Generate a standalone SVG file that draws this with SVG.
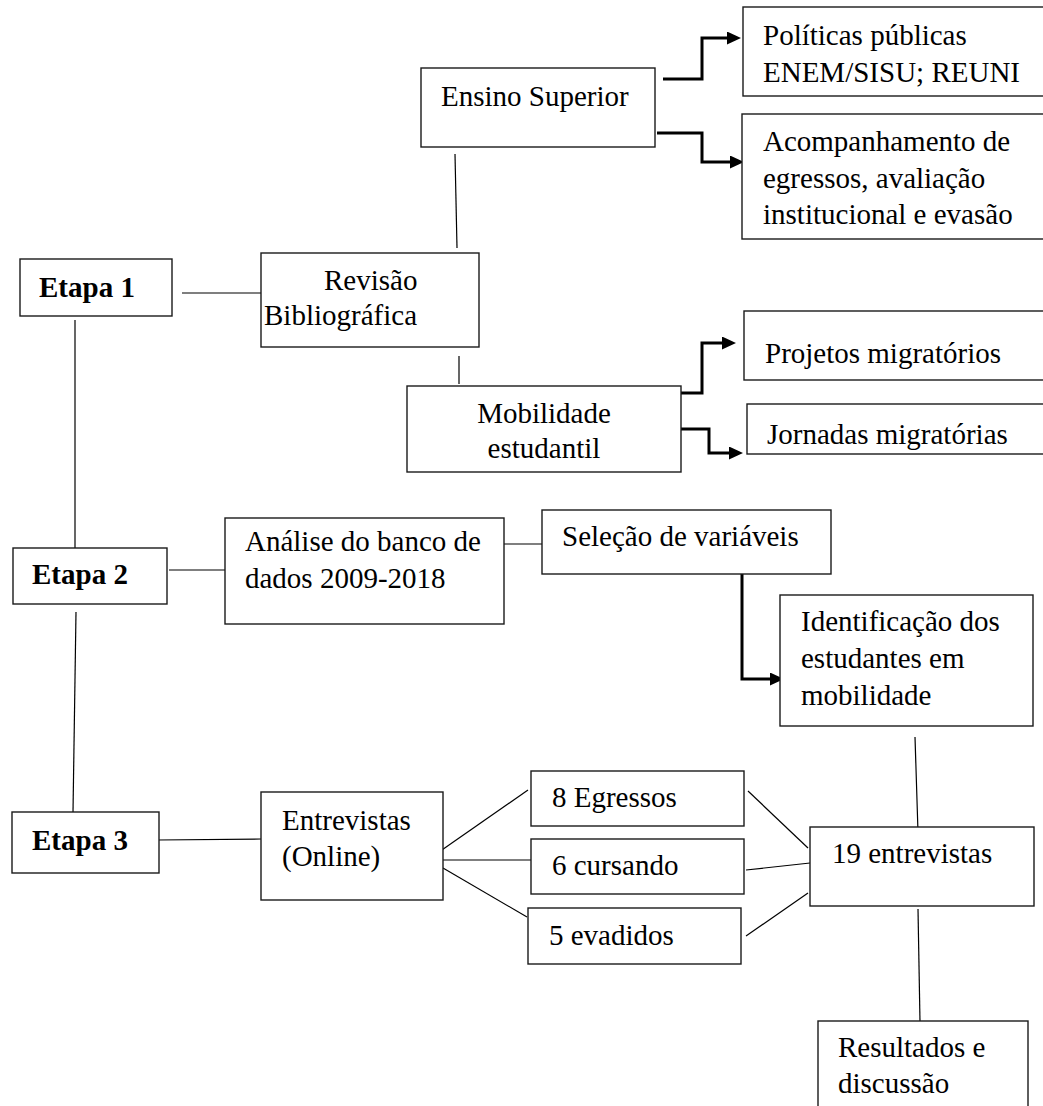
<svg xmlns="http://www.w3.org/2000/svg" width="1043" height="1106" viewBox="0 0 1043 1106">
<style>
  .box { fill: #ffffff; stroke: #1a1a1a; stroke-width: 1.4; }
  .t { font-family: "Liberation Serif", "Times New Roman", serif; font-size: 29px; fill: #000000; }
  .b { font-weight: bold; }
  .c { text-anchor: middle; }
  .ln { stroke: #000000; stroke-width: 1.2; fill: none; }
  .ar { stroke: #000000; stroke-width: 3; fill: none; marker-end: url(#ah); }
</style>
<defs>
  <marker id="ah" markerUnits="userSpaceOnUse" markerWidth="15" markerHeight="14" refX="0" refY="6.5" orient="auto">
    <path d="M0,0 L14,6.5 L0,13 Z" fill="#000000"/>
  </marker>
  <clipPath id="clipJornadas">
    <rect x="747" y="404" width="310" height="50"/>
  </clipPath>
</defs>
<rect width="1043" height="1106" fill="#ffffff"/>

<g id="connectors">
  <line class="ln" x1="182" y1="293" x2="261" y2="293"/>
  <line class="ln" x1="75" y1="320" x2="75" y2="548"/>
  <line class="ln" x1="76" y1="612" x2="73" y2="812"/>
  <line class="ln" x1="455" y1="154" x2="457" y2="248"/>
  <line class="ln" x1="459" y1="356" x2="459" y2="384"/>
  <path class="ar" d="M663,79 H702 V38 H727"/>
  <path class="ar" d="M657,133 H702 V162 H730"/>
  <path class="ar" d="M678,393 H702 V343 H722"/>
  <path class="ar" d="M681,429 H709 V453 H729"/>
  <line class="ln" x1="169" y1="570" x2="225" y2="570"/>
  <line class="ln" x1="504" y1="544" x2="542" y2="544"/>
  <path class="ar" d="M701,572 H742 V679 H770"/>
  <line class="ln" x1="915" y1="737" x2="918" y2="832"/>
  <line class="ln" x1="157" y1="840" x2="261" y2="839"/>
  <line class="ln" x1="439" y1="852" x2="528" y2="790"/>
  <line class="ln" x1="443" y1="860" x2="535" y2="860"/>
  <line class="ln" x1="443" y1="868" x2="527" y2="917"/>
  <line class="ln" x1="748" y1="791" x2="808" y2="848"/>
  <line class="ln" x1="746" y1="870" x2="810" y2="863"/>
  <line class="ln" x1="746" y1="936" x2="808" y2="893"/>
  <line class="ln" x1="918" y1="909" x2="920" y2="1022"/>
</g>

<g id="etapa1">
  <rect class="box" x="20" y="259" width="152" height="57"/>
  <text class="t b" x="39" y="297">Etapa 1</text>
</g>
<g id="revisao">
  <rect class="box" x="261" y="253" width="218" height="94"/>
  <text class="t" x="324" y="290">Revisão</text>
  <text class="t" x="264" y="325">Bibliográfica</text>
</g>
<g id="ensino">
  <rect class="box" x="421" y="68" width="234" height="79"/>
  <text class="t" x="441" y="106">Ensino Superior</text>
</g>
<g id="politicas">
  <rect class="box" x="743" y="7" width="310" height="89"/>
  <text class="t" x="763" y="45">Políticas públicas</text>
  <text class="t" x="763" y="82">ENEM/SISU; REUNI</text>
</g>
<g id="acompanhamento">
  <rect class="box" x="742" y="114" width="310" height="125"/>
  <text class="t" x="763" y="151">Acompanhamento de</text>
  <text class="t" x="763" y="188">egressos, avaliação</text>
  <text class="t" x="763" y="224">institucional e evasão</text>
</g>
<g id="mobilidade">
  <rect class="box" x="407" y="386" width="274" height="86"/>
  <text class="t c" x="544" y="423">Mobilidade</text>
  <text class="t c" x="544" y="458">estudantil</text>
</g>
<g id="projetos">
  <rect class="box" x="744" y="311" width="310" height="69"/>
  <text class="t" x="765" y="363">Projetos migratórios</text>
</g>
<g id="jornadas">
  <rect class="box" x="747" y="404" width="310" height="50"/>
  <text class="t" x="767" y="444" clip-path="url(#clipJornadas)">Jornadas migratórias</text>
</g>
<g id="etapa2">
  <rect class="box" x="13" y="548" width="154" height="56"/>
  <text class="t b" x="32" y="584">Etapa 2</text>
</g>
<g id="analise">
  <rect class="box" x="225" y="518" width="279" height="106"/>
  <text class="t" x="245" y="551">Análise do banco de</text>
  <text class="t" x="245" y="588">dados 2009-2018</text>
</g>
<g id="selecao">
  <rect class="box" x="542" y="510" width="289" height="64"/>
  <text class="t" x="562" y="546">Seleção de variáveis</text>
</g>
<g id="identificacao">
  <rect class="box" x="780" y="595" width="253" height="131"/>
  <text class="t" x="801" y="631">Identificação dos</text>
  <text class="t" x="801" y="668">estudantes em</text>
  <text class="t" x="801" y="705">mobilidade</text>
</g>
<g id="etapa3">
  <rect class="box" x="12" y="812" width="147" height="61"/>
  <text class="t b" x="32" y="850">Etapa 3</text>
</g>
<g id="entrevistas">
  <rect class="box" x="261" y="792" width="182" height="108"/>
  <text class="t" x="282" y="830">Entrevistas</text>
  <text class="t" x="282" y="866">(Online)</text>
</g>
<g id="egressos">
  <rect class="box" x="531" y="771" width="213" height="55"/>
  <text class="t" x="552" y="807">8 Egressos</text>
</g>
<g id="cursando">
  <rect class="box" x="531" y="839" width="213" height="55"/>
  <text class="t" x="552" y="875">6 cursando</text>
</g>
<g id="evadidos">
  <rect class="box" x="528" y="908" width="213" height="56"/>
  <text class="t" x="549" y="945">5 evadidos</text>
</g>
<g id="entrevistas19">
  <rect class="box" x="810" y="827" width="224" height="79"/>
  <text class="t" x="832" y="863">19 entrevistas</text>
</g>
<g id="resultados">
  <rect class="box" x="818" y="1021" width="210" height="100"/>
  <text class="t" x="838" y="1057">Resultados e</text>
  <text class="t" x="838" y="1093">discussão</text>
</g>
</svg>
